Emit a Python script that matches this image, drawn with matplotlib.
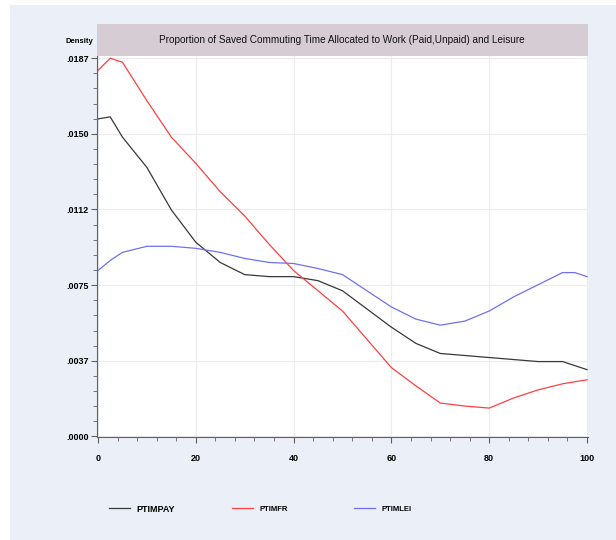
import matplotlib
matplotlib.use("Agg")
import matplotlib.pyplot as plt
from matplotlib.lines import Line2D
from matplotlib.patches import Rectangle

# kernel density values
x = [0, 2.5, 5, 10, 15, 20, 25, 30, 35, 40, 45, 50, 55, 60, 65, 70, 75, 80, 85, 90, 95, 97.5, 100]
ptimpay = [0.0157, 0.0158, 0.0148, 0.0133, 0.0112, 0.0096, 0.0086, 0.0080, 0.0079, 0.0079, 0.0077,
           0.0072, 0.0063, 0.0054, 0.0046, 0.0041, 0.0040, 0.0039, 0.0038, 0.0037, 0.0037, 0.0035, 0.0033]
ptimfr = [0.0181, 0.0187, 0.0185, 0.0166, 0.0148, 0.0135, 0.0121, 0.0109, 0.0095, 0.0082, 0.0072,
          0.0062, 0.0048, 0.0034, 0.0025, 0.00165, 0.0015, 0.0014, 0.0019, 0.0023, 0.0026, 0.0027, 0.0028]
ptimlei = [0.0082, 0.0087, 0.0091, 0.0094, 0.0094, 0.0093, 0.0091, 0.0088, 0.0086, 0.00855, 0.0083,
           0.0080, 0.0072, 0.0064, 0.0058, 0.0055, 0.0057, 0.0062, 0.0069, 0.0075, 0.0081, 0.0081, 0.0079]

yticks = [0, 0.00374, 0.00748, 0.01122, 0.01496, 0.0187]
ylabels = [".0000", ".0037", ".0075", ".0112", ".0150", ".0187"]
xticks = [0, 20, 40, 60, 80, 100]
title = "Proportion of Saved Commuting Time Allocated to Work (Paid,Unpaid) and Leisure"

font = ["Liberation Sans", "DejaVu Sans"]
bg = "#ebf0f8"
W, H = 616, 540

fig = plt.figure(figsize=(W / 100, H / 100), dpi=100, facecolor="white")
fig.add_artist(Rectangle((10 / W, 0), 1, 1 - 5 / H, transform=fig.transFigure,
                         facecolor=bg, edgecolor="none", zorder=-10))

ax = fig.add_axes([97 / W, 1 - 437 / H, 491 / W, 381 / H])
ax.plot(x, ptimpay, color="#383838", lw=0.9)
ax.plot(x, ptimfr, color="#ff4040", lw=0.9)
ax.plot(x, ptimlei, color="#7070f0", lw=0.9)

ax.set_xlim(-0.2, 100.2)
ax.set_ylim(-0.00003, 0.01881)
ax.set_yticks(yticks)
ax.set_yticklabels(ylabels)
ax.set_xticks(xticks)
ax.set_yticks([t + k * 0.00374 / 5 for t in yticks[:-1] for k in range(1, 5)], minor=True)
ax.set_xticks([v for v in range(0, 101, 4) if v % 20], minor=True)
ax.grid(True, which="major", color="#ececec", lw=0.8)
ax.set_axisbelow(True)
for s in ["top", "right"]:
    ax.spines[s].set_visible(False)
for s in ["left", "bottom"]:
    ax.spines[s].set_color("#606060")
    ax.spines[s].set_linewidth(0.8)
ax.tick_params(which="both", color="#606060", direction="out")
ax.tick_params(which="major", length=4, labelsize=6.5, pad=2)
ax.tick_params(which="minor", length=3)
ax.tick_params(axis="x", pad=8)
for lab in ax.get_xticklabels() + ax.get_yticklabels():
    lab.set_family(font)
    lab.set_fontweight("bold")

# title band
fig.add_artist(Rectangle((97 / W, 1 - 56 / H), 491 / W, 32 / H, transform=fig.transFigure,
                         facecolor="#d6ccd4", edgecolor="none"))
fig.text(342 / W, 1 - 40 / H, title, ha="center", va="center", fontsize=7.2,
         family=font, color="#111111")
fig.text(93 / W, 1 - 42 / H, "Density", ha="right", va="center", fontsize=5.5,
         family=font, fontweight="bold")

# legend
legend = [("PTIMPAY", "#383838", 109, 6.5), ("PTIMFR", "#ff4040", 232, 5.5), ("PTIMLEI", "#7070f0", 354, 5.5)]
for name, col, x0, fs in legend:
    fig.add_artist(Line2D([x0 / W, (x0 + 21) / W], [1 - 508 / H] * 2, color=col, lw=0.9,
                          transform=fig.transFigure))
    fig.text((x0 + 27) / W, 1 - 508.5 / H, name, ha="left", va="center_baseline", fontsize=fs,
             family=font, fontweight="bold")

fig.savefig("out.png", dpi=100, facecolor=fig.get_facecolor())
